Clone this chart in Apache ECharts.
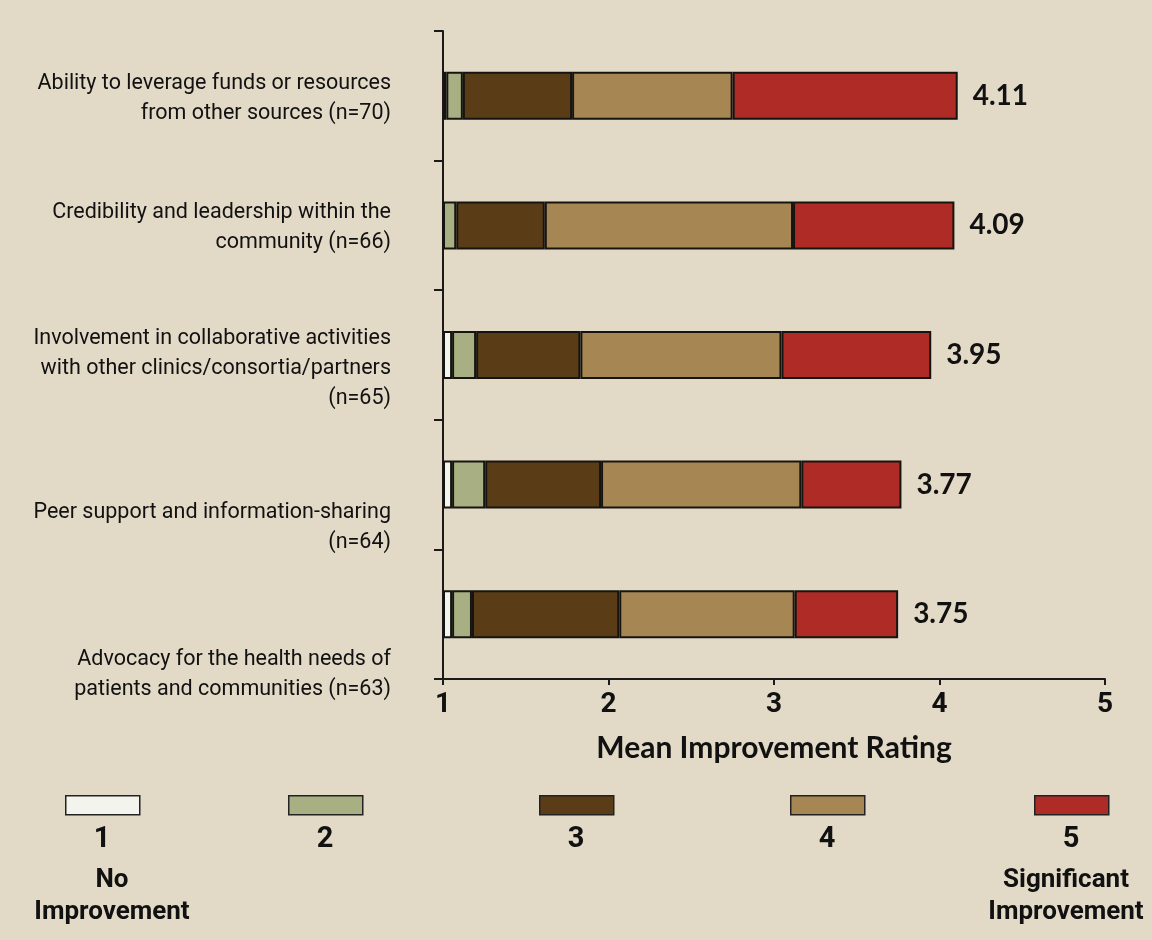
<!DOCTYPE html>
<html>
<head>
<meta charset="utf-8">
<style>
  html, body { margin: 0; padding: 0; background: #E3D9C7; }
  #chart { width: 1152px; height: 940px; }
</style>
<script src="https://cdn.jsdelivr.net/npm/echarts@6/dist/echarts.min.js"></script>
</head>
<body>
<div id="chart"></div>
<script>
// ---- Data ----
const categories = [
  'Ability to leverage funds or resources\nfrom other sources (n=70)',
  'Credibility and leadership within the\ncommunity (n=66)',
  'Involvement in collaborative activities\nwith other clinics/consortia/partners\n(n=65)',
  'Peer support and information-sharing\n(n=64)',
  'Advocacy for the health needs of\npatients and communities (n=63)'
];
const means = [4.11, 4.09, 3.95, 3.77, 3.75];
const axisStart = [1, 1, 1, 1, 1];
// Segment lengths (in rating-scale units) for each response level
const seg1NoImprovement = [0.02, 0, 0.055, 0.055, 0.055];
const seg2 = [0.10, 0.08, 0.145, 0.20, 0.12];
const seg3 = [0.66, 0.535, 0.63, 0.70, 0.89];
const seg4 = [0.97, 1.50, 1.215, 1.21, 1.06];
const seg5Significant = [1.36, 0.975, 0.905, 0.605, 0.625];
const levelNames = ['1', '2', '3', '4', '5'];
const levelColors = ['#F4F4EE', '#A8B083', '#5A3D17', '#A68753', '#AE2B26'];
const xTicks = [1, 2, 3, 4, 5];

const chart = echarts.init(document.getElementById('chart'));
const labelFont = "'Roboto', sans-serif";

const segs = [seg1NoImprovement, seg2, seg3, seg4, seg5Significant];
const series = [{
  name: 'base', type: 'bar', stack: 'r', data: axisStart, barWidth: 48,
  itemStyle: { color: 'transparent', borderWidth: 0 }, silent: true
}];
segs.forEach((arr, i) => {
  const s = {
    name: levelNames[i], type: 'bar', stack: 'r', data: arr, barWidth: 48,
    itemStyle: { color: levelColors[i], borderColor: '#161410', borderWidth: 2 }
  };
  if (i === 4) {
    s.label = {
      show: true, position: 'right', distance: 15,
      formatter: p => means[p.dataIndex].toFixed(2),
      fontFamily: 'Lato, sans-serif', fontWeight: 'bold', fontSize: 28, color: '#111'
    };
  }
  series.push(s);
});

// spacer line heights push each label block down to where the reference places it
const spacerRich = {
  sp0: { fontSize: 1, lineHeight: 6 },
  sp1: { fontSize: 1, lineHeight: 4 },
  sp2: { fontSize: 1, lineHeight: 28 },
  sp3: { fontSize: 1, lineHeight: 86 },
  sp4: { fontSize: 1, lineHeight: 120 },
  t: { fontFamily: labelFont, fontSize: 21.5, lineHeight: 30, color: '#111', align: 'right' }
};

const graphics = [];
const legendCenters = [102, 325, 576, 827, 1071];
legendCenters.forEach((cx, i) => {
  graphics.push({
    type: 'rect', left: cx - 37, top: 795,
    shape: { width: 74, height: 19 },
    style: { fill: levelColors[i], stroke: '#222', lineWidth: 1.5 }
  });
  graphics.push({
    type: 'text', x: cx, y: 840,
    style: { text: levelNames[i], fill: '#111', font: "bold 29px " + labelFont, textAlign: 'center', textVerticalAlign: 'middle' }
  });
});
graphics.push({
  type: 'text', x: 112, y: 896,
  style: { text: 'No\nImprovement', fill: '#111', font: "bold 26px " + labelFont, textAlign: 'center', textVerticalAlign: 'middle', lineHeight: 32 }
});
graphics.push({
  type: 'text', x: 1066, y: 896,
  style: { text: 'Significant\nImprovement', fill: '#111', font: "bold 26px " + labelFont, textAlign: 'center', textVerticalAlign: 'middle', lineHeight: 32 }
});

chart.setOption({
  backgroundColor: '#E3D9C7',
  animation: false,
  grid: { left: 443, right: 47, top: 31, bottom: 261, containLabel: false },
  xAxis: {
    type: 'value', min: xTicks[0], max: xTicks[xTicks.length - 1], interval: 1,
    axisLine: { show: true, lineStyle: { color: '#1a1a1a', width: 2 } },
    axisTick: { show: true, length: 6, lineStyle: { color: '#1a1a1a', width: 2 } },
    splitLine: { show: false },
    axisLabel: { margin: 12, color: '#111', fontFamily: labelFont, fontWeight: 'bold', fontSize: 28 },
    name: 'Mean Improvement Rating', nameLocation: 'middle', nameGap: 54,
    nameTextStyle: { fontFamily: 'Lato, sans-serif', fontWeight: 'bold', fontSize: 30, color: '#111' }
  },
  yAxis: {
    type: 'category', inverse: true,
    data: categories,
    axisLine: { show: true, lineStyle: { color: '#1a1a1a', width: 2 } },
    axisTick: { show: true, length: 9, alignWithLabel: false, lineStyle: { color: '#1a1a1a', width: 2 } },
    axisLabel: {
      interval: 0, hideOverlap: false, margin: 52, align: 'right',
      formatter: (v, i) => '{sp' + i + '| }\n' + v.split('\n').map(l => '{t|' + l + '}').join('\n'),
      rich: spacerRich
    }
  },
  series: series,
  graphic: graphics
});
</script>
</body>
</html>
